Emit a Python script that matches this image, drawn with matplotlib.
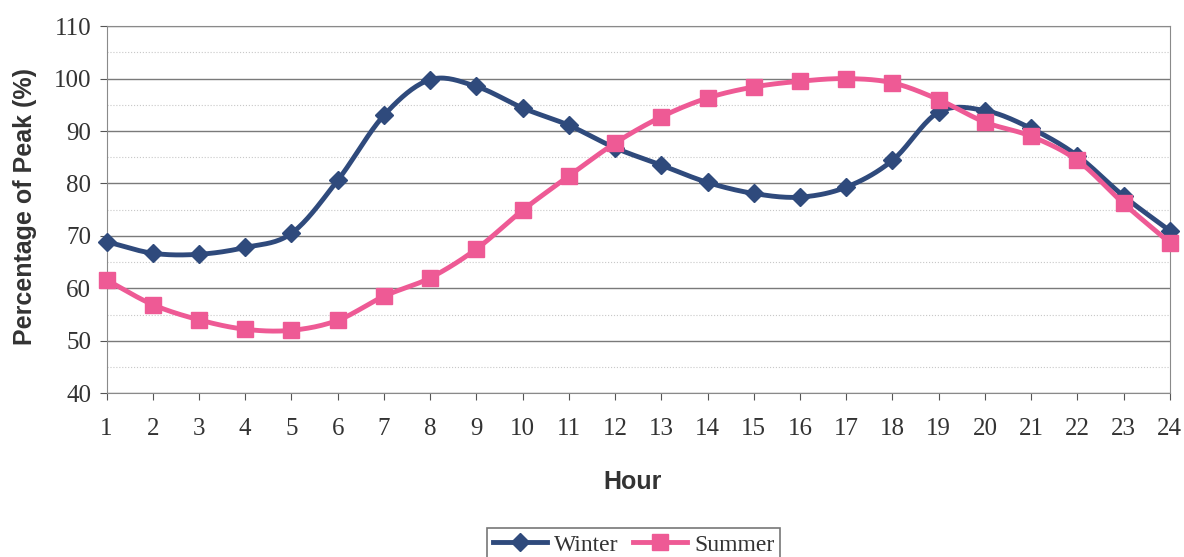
import numpy as np
import matplotlib.pyplot as plt
from matplotlib.ticker import MultipleLocator

hours = list(range(1, 25))
winter = [68.9, 66.7, 66.5, 67.8, 70.5, 80.6, 93.0, 99.8, 98.5, 94.4, 91.1, 86.8,
          83.5, 80.2, 78.1, 77.4, 79.3, 84.4, 93.6, 93.9, 90.5, 85.3, 77.6, 71.0]
summer = [61.6, 56.9, 54.0, 52.2, 52.0, 53.9, 58.5, 62.0, 67.5, 74.9, 81.4, 87.7,
          92.7, 96.3, 98.4, 99.5, 100.0, 99.2, 96.0, 91.7, 89.0, 84.4, 76.2, 68.7]


def smooth(x, y, n=20):
    # Catmull-Rom curve through the points, like Excel's smoothed line
    x = np.asarray(x, float)
    y = np.asarray(y, float)
    px = np.concatenate([[2 * x[0] - x[1]], x, [2 * x[-1] - x[-2]]])
    py = np.concatenate([[2 * y[0] - y[1]], y, [2 * y[-1] - y[-2]]])
    xs, ys = [], []
    t = np.linspace(0, 1, n, endpoint=False)
    for i in range(1, len(px) - 2):
        for p, out in ((px, xs), (py, ys)):
            p0, p1, p2, p3 = p[i - 1], p[i], p[i + 1], p[i + 2]
            out.extend(0.5 * (2 * p1 + (-p0 + p2) * t
                              + (2 * p0 - 5 * p1 + 4 * p2 - p3) * t ** 2
                              + (-p0 + 3 * p1 - 3 * p2 + p3) * t ** 3))
    xs.append(x[-1])
    ys.append(y[-1])
    return xs, ys


navy = '#2f4a7c'
pink = '#ee5a95'

fig = plt.figure(figsize=(11.84, 5.57), dpi=100)
ax = fig.add_axes([0.090, 0.294, 0.898, 0.659])

wx, wy = smooth(hours, winter)
sx, sy = smooth(hours, summer)
ax.plot(wx, wy, color=navy, lw=3.5, zorder=3, clip_on=False)
ax.plot(hours, winter, ls='none', marker='D', ms=9, color=navy, zorder=4, clip_on=False)
ax.plot(sx, sy, color=pink, lw=3.5, zorder=5, clip_on=False)
ax.plot(hours, summer, ls='none', marker='s', ms=11, color=pink, zorder=6, clip_on=False)

# legend handles
ax.plot([], [], color=navy, lw=3.5, marker='D', ms=9, label='Winter')
ax.plot([], [], color=pink, lw=3.5, marker='s', ms=11, label='Summer')

ax.set_xlim(1, 24)
ax.set_ylim(40, 110)
ax.set_xticks(hours)
ax.yaxis.set_major_locator(MultipleLocator(10))
ax.yaxis.set_minor_locator(MultipleLocator(5))
ax.grid(axis='y', which='major', color='#7a7a7a', lw=1)
ax.grid(axis='y', which='minor', color='#c8c8c8', lw=0.8, ls=':')
ax.set_axisbelow(True)
for s in ax.spines.values():
    s.set_color('#8a8a8a')
ax.tick_params(axis='both', which='major', direction='out', length=5, color='#555555',
               labelsize=18, labelcolor='#333333')
ax.tick_params(axis='x', pad=13)
ax.tick_params(axis='y', pad=6)
ax.tick_params(axis='y', which='minor', length=0)
for lab in ax.get_xticklabels() + ax.get_yticklabels():
    lab.set_family('Liberation Serif')

ax.set_xlabel('Hour', fontsize=18, fontweight='bold', family='Liberation Sans',
              color='#333333')
ax.set_ylabel('Percentage of Peak (%)', fontsize=18, fontweight='bold',
              family='Liberation Sans', color='#333333')
ax.xaxis.set_label_coords(0.495, -0.21)
ax.yaxis.set_label_coords(-0.065, 0.51)

leg = fig.legend(loc='center', bbox_to_anchor=(0.535, 0.022), ncol=2,
                 prop={'family': 'Liberation Serif', 'size': 17},
                 frameon=True, fancybox=False, edgecolor='#555555',
                 handlelength=2.3, columnspacing=0.6, handletextpad=0.3,
                 borderpad=0.25, borderaxespad=0)
leg.get_frame().set_linewidth(1.2)
for t in leg.get_texts():
    t.set_color('#333333')

fig.savefig('out.png', dpi=100)
